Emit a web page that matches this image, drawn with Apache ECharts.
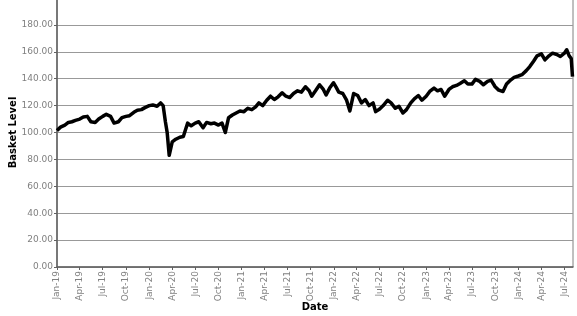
<!DOCTYPE html>
<html>
<head>
<meta charset="utf-8">
<script src="https://cdn.jsdelivr.net/npm/echarts@6/dist/echarts.min.js"></script>
<style>html,body{margin:0;padding:0;background:#fff;}#c{width:577px;height:316px;}</style>
</head>
<body>
<div id="c"></div>
<script>
var dates = [
'2019-01-01','2019-01-15','2019-02-01','2019-02-15','2019-03-01','2019-03-15','2019-04-01','2019-04-15','2019-05-01','2019-05-15','2019-06-01','2019-06-15',
'2019-07-01','2019-07-15','2019-08-01','2019-08-15','2019-09-01','2019-09-15','2019-10-01','2019-10-15','2019-11-01','2019-11-15','2019-12-01','2019-12-15',
'2020-01-01','2020-01-15','2020-02-01','2020-02-15','2020-02-25','2020-03-05','2020-03-12','2020-03-20','2020-04-01','2020-04-15','2020-05-01','2020-05-15',
'2020-06-01','2020-06-15','2020-07-01','2020-07-15','2020-08-01','2020-08-15','2020-09-01','2020-09-15','2020-10-01','2020-10-15','2020-10-28','2020-11-10',
'2020-11-25','2020-12-10','2020-12-25',
'2021-01-10','2021-01-25','2021-02-10','2021-02-25','2021-03-10','2021-03-25','2021-04-10','2021-04-25','2021-05-10','2021-05-25','2021-06-10','2021-06-25',
'2021-07-10','2021-07-25','2021-08-10','2021-08-25','2021-09-10','2021-09-25','2021-10-05','2021-10-20','2021-11-05','2021-11-20','2021-12-01','2021-12-15','2021-12-30',
'2022-01-10','2022-01-20','2022-02-05','2022-02-20','2022-03-05','2022-03-20','2022-04-05','2022-04-20','2022-05-05','2022-05-20','2022-06-05','2022-06-15',
'2022-07-01','2022-07-15','2022-08-01','2022-08-15','2022-09-01','2022-09-15','2022-10-01','2022-10-15','2022-11-01','2022-11-15','2022-12-01','2022-12-15',
'2023-01-01','2023-01-15','2023-02-01','2023-02-15','2023-03-01','2023-03-15','2023-04-01','2023-04-15','2023-05-01','2023-05-15','2023-06-01','2023-06-15',
'2023-07-01','2023-07-15','2023-08-01','2023-08-15','2023-09-01','2023-09-15','2023-10-01','2023-10-15','2023-11-01','2023-11-15','2023-12-01','2023-12-15',
'2024-01-01','2024-01-15','2024-02-01','2024-02-15','2024-03-01','2024-03-15','2024-04-01','2024-04-15','2024-05-01','2024-05-15','2024-06-01','2024-06-15',
'2024-07-01','2024-07-10','2024-07-20','2024-07-28','2024-08-02'
];
var basketLevel = [
101.5,104,105.5,107.5,108,109,110,111.5,112,108,107.5,110,
112,113.5,112,107,108,111,112,112.5,115,116.5,117,118.5,
120,120.5,119.5,122,120,108,100,83,93,95,96.5,97,
107,105,107,108,103.5,107.5,106.5,107,105.5,107,100,111,
113,114.5,116,
115.5,118,117,119,122,120,124,127,124.5,126.5,129.5,127,
126,129,131,130,134,131,127,131,135.5,132,128,133,137,
133.5,130,129,124,116,129,127.5,122,124.5,120,122,115.5,
117.5,120,124,122,118,119.5,114.5,117,122,125,127.5,124,
127,130.5,133,131,132,127,132,134,135,136.5,138.5,136,
136,139.5,138,135.5,138,139,134,131.5,130.5,136,139,141,
142,143,146,149,153,157,158.5,154,157,159,158,156.5,
159,161.5,157,155,141.5
];
var tickDates = ['2019-01-01','2019-04-01','2019-07-01','2019-10-01','2020-01-01','2020-04-01','2020-07-01','2020-10-01',
'2021-01-01','2021-04-01','2021-07-01','2021-10-01','2022-01-01','2022-04-01','2022-07-01','2022-10-01',
'2023-01-01','2023-04-01','2023-07-01','2023-10-01','2024-01-01','2024-04-01','2024-07-01'];
var monthNames = ['Jan','Feb','Mar','Apr','May','Jun','Jul','Aug','Sep','Oct','Nov','Dec'];
var yTicks = [0,20,40,60,80,100,120,140,160,180];

function ts(s){ var p = s.split('-'); return Date.UTC(+p[0], +p[1]-1, +p[2]); }
var tickTs = tickDates.map(ts);
var seriesData = dates.map(function(d,i){ return [ts(d), basketLevel[i]]; });

var chart = echarts.init(document.getElementById('c'));
chart.setOption({
  animation: false,
  grid: {left: 57, right: 4, top: -2, bottom: 49, show: true, borderColor: '#808080', borderWidth: 1,
         containLabel: false, outerBoundsMode: 'none'},
  xAxis: {
    type: 'value',
    min: ts('2019-01-01'), max: ts('2024-08-04'),
    name: 'Date', nameLocation: 'middle', nameGap: 35, nameMoveOverlap: false,
    nameTextStyle: {fontFamily: 'DejaVu Sans', fontWeight: 'bold', fontSize: 10, color: '#000'},
    axisLine: {lineStyle: {color: '#606060', width: 1.5}},
    axisTick: {show: true, length: 3, lineStyle: {color: '#606060'}, customValues: tickTs},
    splitLine: {show: false},
    axisLabel: {
      customValues: tickTs, rotate: 90, margin: 4,
      fontFamily: 'DejaVu Sans', fontSize: 9, color: '#808080',
      formatter: function(v){ var d = new Date(v); return monthNames[d.getUTCMonth()] + '-' + String(d.getUTCFullYear()).slice(2); }
    }
  },
  yAxis: {
    type: 'value', min: 0, max: 200, interval: 20,
    name: 'Basket Level', nameLocation: 'middle', nameGap: 39, nameMoveOverlap: false,
    nameTextStyle: {fontFamily: 'DejaVu Sans', fontWeight: 'bold', fontSize: 10, color: '#000'},
    axisLine: {show: true, lineStyle: {color: '#606060', width: 1.5}},
    axisTick: {show: true, length: 3, lineStyle: {color: '#606060'}},
    splitLine: {show: true, lineStyle: {color: '#999999', width: 1.2}},
    axisLabel: {
      showMaxLabel: false, margin: 4,
      fontFamily: 'DejaVu Sans', fontSize: 9, color: '#808080',
      formatter: function(v){ return yTicks.indexOf(v) >= 0 ? v.toFixed(2) : ''; }
    }
  },
  series: [{
    type: 'line', data: seriesData, showSymbol: false, symbol: 'none',
    lineStyle: {color: '#000', width: 3.5, join: 'round'}
  }]
});
</script>
</body>
</html>
